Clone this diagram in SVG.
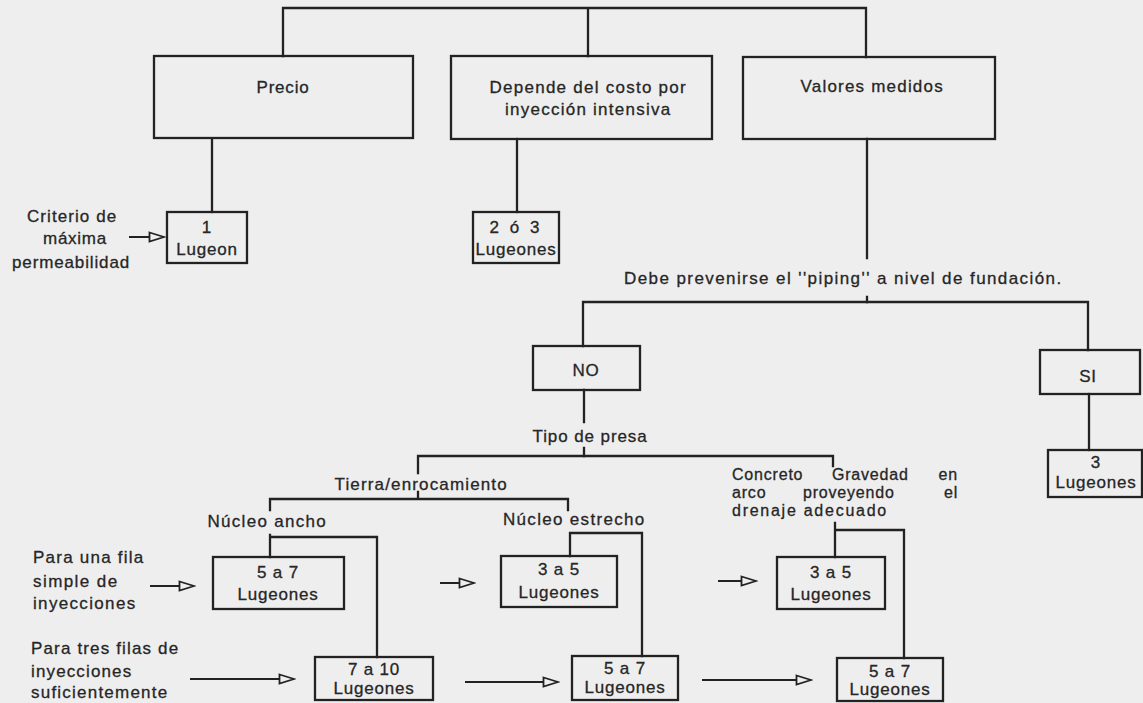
<svg xmlns="http://www.w3.org/2000/svg" width="1143" height="703" viewBox="0 0 1143 703">
<style>
  .ln{fill:none;stroke:#222;stroke-width:2.3;stroke-linecap:square}
  .bx{fill:none;stroke:#222;stroke-width:2.3}
  .t{font-family:"Liberation Sans",Arial,sans-serif;font-size:17px;fill:#262626;stroke:#262626;stroke-width:0.3;letter-spacing:0.8px}
  .s{font-size:16px}
  .c{text-anchor:middle}
  .ar{fill:none;stroke:#222;stroke-width:2}
</style>
<defs>
  <marker id="oa" markerUnits="userSpaceOnUse" markerWidth="18" markerHeight="14" refX="16" refY="6" orient="auto">
    <path d="M1.5,1.5 L16,6 L1.5,10.5 Z" fill="#eeeeee" stroke="#222" stroke-width="1.8"/>
  </marker>
</defs>
<rect x="0" y="0" width="1143" height="703" fill="#eeeeee"/>

<g id="connectors">
  <path class="ln" d="M283,8 H866 M283,8 V56 M588,8 V56 M866,8 V57"/>
  <path class="ln" d="M212,139 V212"/>
  <path class="ln" d="M517,139 V212"/>
  <path class="ln" d="M867,139 V258 M867,297 V302"/>
  <path class="ln" d="M583,302 H1088 V350 M583,302 V346"/>
  <path class="ln" d="M1089,394 V450"/>
  <path class="ln" d="M584,390 V422 M584,448 V456"/>
  <path class="ln" d="M418,456 H833 V466 M418,456 V473"/>
  <path class="ln" d="M418,492 V498 M270,499 H568 V510 M270,499 V510"/>
  <path class="ln" d="M270,535 V557 M270,537 H377 V657"/>
  <path class="ln" d="M570,533 V556 M570,533 H642 V656"/>
  <path class="ln" d="M835,523 V557 M835,530 H904 V658"/>
  <path class="ar" d="M129,237 H164" marker-end="url(#oa)"/>
  <path class="ar" d="M150,586 H194" marker-end="url(#oa)"/>
  <path class="ar" d="M190,679 H294" marker-end="url(#oa)"/>
  <path class="ar" d="M440,583 H474" marker-end="url(#oa)"/>
  <path class="ar" d="M465,682 H558" marker-end="url(#oa)"/>
  <path class="ar" d="M718,581 H756" marker-end="url(#oa)"/>
  <path class="ar" d="M702,680 H811" marker-end="url(#oa)"/>
</g>

<g id="precio">
  <rect class="bx" x="154" y="56" width="259" height="82"/>
  <text class="t c" x="283" y="93">Precio</text>
</g>
<g id="depende">
  <rect class="bx" x="451" y="56" width="261" height="83"/>
  <text class="t c" x="588" y="93" textLength="197" lengthAdjust="spacing">Depende del costo por</text>
  <text class="t c" x="588" y="115" textLength="166" lengthAdjust="spacing">inyección intensiva</text>
</g>
<g id="valores">
  <rect class="bx" x="743" y="57" width="252" height="82"/>
  <text class="t c" x="872" y="92" textLength="143" lengthAdjust="spacing">Valores medidos</text>
</g>
<g id="lugeon1">
  <rect class="bx" x="167" y="212" width="80" height="51"/>
  <text class="t c" x="207" y="233">1</text>
  <text class="t c" x="207" y="255">Lugeon</text>
</g>
<g id="criterio">
  <text class="t c" x="72" y="222" textLength="90" lengthAdjust="spacing">Criterio de</text>
  <text class="t c" x="75" y="244" textLength="64" lengthAdjust="spacing">máxima</text>
  <text class="t c" x="71" y="268" textLength="118" lengthAdjust="spacing">permeabilidad</text>
</g>
<g id="lugeon23">
  <rect class="bx" x="473" y="212" width="86" height="51"/>
  <text class="t c" x="516" y="233" style="letter-spacing:3px">2 ó 3</text>
  <text class="t c" x="516" y="255">Lugeones</text>
</g>
<g id="piping">
  <text class="t" x="624" y="284" textLength="438" lengthAdjust="spacing">Debe prevenirse el ''piping'' a nivel de fundación.</text>
</g>
<g id="no">
  <rect class="bx" x="533" y="346" width="107" height="44"/>
  <text class="t c" x="586" y="376">NO</text>
</g>
<g id="si">
  <rect class="bx" x="1040" y="350" width="100" height="44"/>
  <text class="t c" x="1088" y="382">SI</text>
</g>
<g id="lugeon3">
  <rect class="bx" x="1048" y="450" width="94" height="47"/>
  <text class="t c" x="1096" y="468">3</text>
  <text class="t c" x="1096" y="488">Lugeones</text>
</g>
<g id="tipo">
  <text class="t c" x="590" y="442" textLength="115" lengthAdjust="spacing">Tipo de presa</text>
</g>
<g id="tierra">
  <text class="t c" x="421" y="490" textLength="173" lengthAdjust="spacing">Tierra/enrocamiento</text>
</g>
<g id="concreto">
  <text class="t s" x="732" y="480">Concreto</text>
  <text class="t s" x="832" y="480">Gravedad</text>
  <text class="t s" x="958" y="480" text-anchor="end">en</text>
  <text class="t s" x="732" y="498">arco</text>
  <text class="t s" x="803" y="498">proveyendo</text>
  <text class="t s" x="958" y="498" text-anchor="end">el</text>
  <text class="t s" x="732" y="516" textLength="155" lengthAdjust="spacing">drenaje adecuado</text>
</g>
<g id="nucleo-ancho">
  <text class="t c" x="267" y="527" textLength="119" lengthAdjust="spacing">Núcleo ancho</text>
</g>
<g id="nucleo-estrecho">
  <text class="t c" x="574" y="525" textLength="142" lengthAdjust="spacing">Núcleo estrecho</text>
</g>
<g id="fila-simple">
  <text class="t" x="33" y="563" textLength="111" lengthAdjust="spacing">Para una fila</text>
  <text class="t" x="33" y="587" textLength="85" lengthAdjust="spacing">simple de</text>
  <text class="t" x="33" y="609" textLength="103" lengthAdjust="spacing">inyecciones</text>
</g>
<g id="tres-filas">
  <text class="t" x="31" y="654" textLength="148" lengthAdjust="spacing">Para tres filas de</text>
  <text class="t" x="31" y="677" textLength="101" lengthAdjust="spacing">inyecciones</text>
  <text class="t" x="31" y="698" textLength="137" lengthAdjust="spacing">suficientemente</text>
</g>
<g id="ancho-5a7">
  <rect class="bx" x="213" y="557" width="131" height="52"/>
  <text class="t c" x="278" y="578">5 a 7</text>
  <text class="t c" x="278" y="600">Lugeones</text>
</g>
<g id="ancho-7a10">
  <rect class="bx" x="315" y="657" width="118" height="43"/>
  <text class="t c" x="374" y="675">7 a 10</text>
  <text class="t c" x="374" y="694">Lugeones</text>
</g>
<g id="estrecho-3a5">
  <rect class="bx" x="501" y="556" width="116" height="51"/>
  <text class="t c" x="559" y="575">3 a 5</text>
  <text class="t c" x="559" y="598">Lugeones</text>
</g>
<g id="estrecho-5a7">
  <rect class="bx" x="572" y="656" width="106" height="44"/>
  <text class="t c" x="625" y="674">5 a 7</text>
  <text class="t c" x="625" y="693">Lugeones</text>
</g>
<g id="concreto-3a5">
  <rect class="bx" x="777" y="557" width="108" height="52"/>
  <text class="t c" x="831" y="578">3 a 5</text>
  <text class="t c" x="831" y="600">Lugeones</text>
</g>
<g id="concreto-5a7">
  <rect class="bx" x="837" y="658" width="106" height="43"/>
  <text class="t c" x="890" y="677">5 a 7</text>
  <text class="t c" x="890" y="695">Lugeones</text>
</g>
</svg>
